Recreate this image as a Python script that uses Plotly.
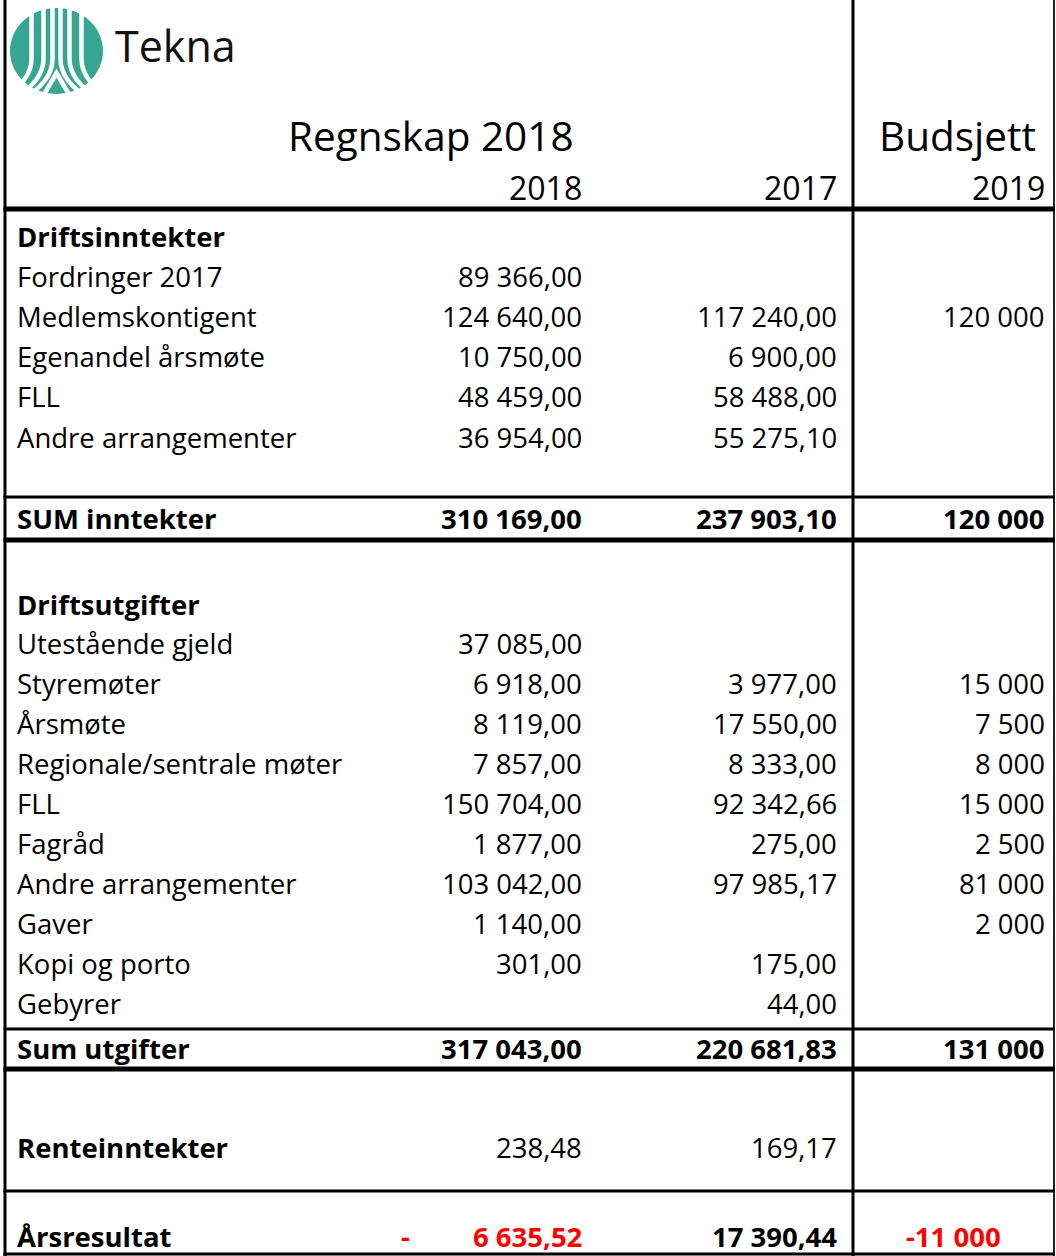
import plotly.graph_objects as go

# ---------------- data ----------------
income_labels = ["Fordringer 2017", "Medlemskontigent", "Egenandel årsmøte", "FLL", "Andre arrangementer"]
income_2018 = ["89 366,00", "124 640,00", "10 750,00", "48 459,00", "36 954,00"]
income_2017 = ["", "117 240,00", "6 900,00", "58 488,00", "55 275,10"]
income_2019 = ["", "120 000", "", "", ""]

sum_income = ["SUM inntekter", "310 169,00", "237 903,10", "120 000"]

expense_labels = ["Utestående gjeld", "Styremøter", "Årsmøte", "Regionale/sentrale møter", "FLL", "Fagråd",
                  "Andre arrangementer", "Gaver", "Kopi og porto", "Gebyrer"]
expense_2018 = ["37 085,00", "6 918,00", "8 119,00", "7 857,00", "150 704,00", "1 877,00", "103 042,00",
                "1 140,00", "301,00", ""]
expense_2017 = ["", "3 977,00", "17 550,00", "8 333,00", "92 342,66", "275,00", "97 985,17", "", "175,00", "44,00"]
expense_2019 = ["", "15 000", "7 500", "8 000", "15 000", "2 500", "81 000", "2 000", "", ""]

sum_expense = ["Sum utgifter", "317 043,00", "220 681,83", "131 000"]
interest = ["Renteinntekter", "238,48", "169,17", ""]
result = ["Årsresultat", "6 635,52", "17 390,44", "-11 000"]

title_left = "Regnskap 2018"
title_right = "Budsjett"
year_headers = ["2018", "2017", "2019"]
section_income = "Driftsinntekter"
section_expense = "Driftsutgifter"

# ---------------- layout helpers ----------------
W, H = 1056, 1256
FONT = "Open Sans"
BODY = 27.5
RED = "#ff0000"
X_LABEL = 15
X_C1, X_C2, X_C3 = 584, 839, 1047
X_LEFT, X_MID, X_RIGHT = 5, 853, 1054

fig = go.Figure()
ann = []
shapes = []


def text(x, y, s, anchor="right", size=BODY, bold=False, color="#000000"):
    if s == "":
        return
    ann.append(dict(x=x, y=y, xref="x", yref="y", text=("<b>%s</b>" % s) if bold else s,
                    showarrow=False, xanchor=anchor, yanchor="middle",
                    font=dict(family=FONT, size=size, color=color)))


def hline(y, w):
    shapes.append(dict(type="line", xref="x", yref="y", x0=X_LEFT - 1.5, x1=X_RIGHT + 1, y0=y, y1=y,
                       line=dict(color="#000000", width=w)))


def vline(x, w, color="#000000"):
    shapes.append(dict(type="line", xref="x", yref="y", x0=x, x1=x, y0=0, y1=H,
                       line=dict(color=color, width=w)))


# ---- logo ----
shapes.append(dict(type="circle", xref="x", yref="y", x0=10, x1=103, y0=8, y1=94,
                   fillcolor="#36a592", line=dict(width=0)))
cx, cy = 56.5, 51
for dx in (-25, -13, -3):
    for sgn in (-1, 1):
        x = cx + sgn * abs(dx) if dx != -3 else cx + sgn * 4
        bend = cx + sgn * (abs(dx) + 30)
        path = "M %f %f L %f %f Q %f %f %f %f" % (x, 0, x, cy + 8, x, cy + 30, bend, cy + 48)
        shapes.append(dict(type="path", xref="x", yref="y", path=path,
                           line=dict(color="white", width=4.5)))
shapes.append(dict(type="path", xref="x", yref="y",
                   path="M %f %f L %f %f L %f %f" % (cx - 14, cy + 46, cx, cy + 22, cx + 14, cy + 46),
                   line=dict(color="white", width=4.5)))
shapes.append(dict(type="rect", xref="x", yref="y", x0=8, x1=106, y0=-2, y1=8,
                   fillcolor="white", line=dict(width=0)))
text(113, 45, "Tekna", anchor="left", size=43, color="#111111")

# ---- headers ----
text((X_LEFT + X_MID) / 2 + 2, 135, title_left, anchor="center", size=40.5)
text((X_MID + X_RIGHT) / 2 + 4, 135, title_right, anchor="center", size=40.5)
for xpos, lab in zip((X_C1, X_C2, X_C3), year_headers):
    text(xpos, 187, lab, size=32)

# ---- income block ----
text(X_LABEL, 236, section_income, anchor="left", bold=True)
for i, lab in enumerate(income_labels):
    y = 276 + 40.3 * i
    text(X_LABEL, y, lab, anchor="left")
    text(X_C1, y, income_2018[i])
    text(X_C2, y, income_2017[i])
    text(X_C3, y, income_2019[i])

y = 518
text(X_LABEL, y, sum_income[0], anchor="left", bold=True)
for xpos, v in zip((X_C1, X_C2, X_C3), sum_income[1:]):
    text(xpos, y, v, bold=True)

# ---- expense block ----
text(X_LABEL, 604, section_expense, anchor="left", bold=True)
for i, lab in enumerate(expense_labels):
    y = 643 + 40.1 * i
    text(X_LABEL, y, lab, anchor="left")
    text(X_C1, y, expense_2018[i])
    text(X_C2, y, expense_2017[i])
    text(X_C3, y, expense_2019[i])

y = 1048
text(X_LABEL, y, sum_expense[0], anchor="left", bold=True)
for xpos, v in zip((X_C1, X_C2, X_C3), sum_expense[1:]):
    text(xpos, y, v, bold=True)

y = 1147
text(X_LABEL, y, interest[0], anchor="left", bold=True)
text(X_C1, y, interest[1])
text(X_C2, y, interest[2])

y = 1236
text(X_LABEL, y, result[0], anchor="left", bold=True)
text(405, y, "-", anchor="center", bold=True, color=RED)
text(X_C1, y, result[1], bold=True, color=RED)
text(X_C2, y, result[2], bold=True)
text((X_MID + X_RIGHT) / 2, y, result[3], anchor="center", bold=True, color=RED)

# ---- grid lines ----
vline(X_LEFT, 3)
vline(X_MID, 3)
vline(X_RIGHT, 2, "#222222")
hline(209, 5)
hline(497, 3)
hline(540, 5)
hline(1029, 3)
hline(1069, 5)
hline(1191, 3)
hline(1254, 3)

fig.add_trace(go.Scatter(x=[0, W], y=[0, H], mode="markers", marker=dict(opacity=0), hoverinfo="skip",
                         showlegend=False))

fig.update_layout(
    width=W, height=H, margin=dict(l=0, r=0, t=0, b=0),
    paper_bgcolor="white", plot_bgcolor="white",
    xaxis=dict(range=[0, W], visible=False, fixedrange=True),
    yaxis=dict(range=[H, 0], visible=False, fixedrange=True),
    annotations=ann, shapes=shapes, showlegend=False,
)

fig.write_html("out.html", config={"displayModeBar": False},
               post_script="document.body.style.margin='0';")
